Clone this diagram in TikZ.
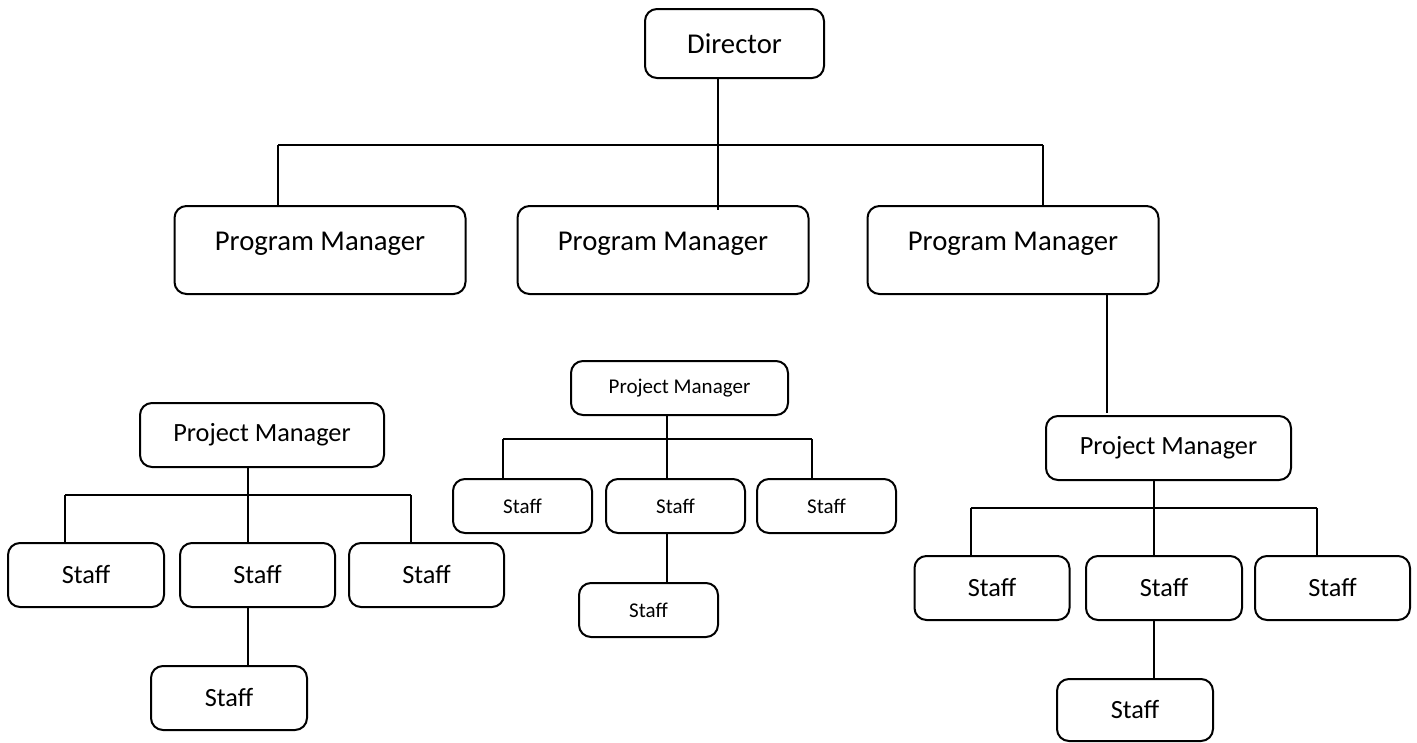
\documentclass[tikz,border=0pt]{standalone}
\usepackage{fontspec}
\setmainfont{Carlito}
\begin{document}
\begin{tikzpicture}[x=1pt,y=-1pt,
  box/.style={draw, line width=2pt, rounded corners=12pt, inner sep=0pt, align=center},
  conn/.style={line width=2pt},
  big/.style={font=\fontsize{28.7}{34}\selectfont},
  mid/.style={font=\fontsize{26.3}{31}\selectfont},
  sml/.style={font=\fontsize{21}{25}\selectfont},
  pmbox/.style={box, big, minimum width=291pt, minimum height=88pt, text height=10pt, text depth=10pt},
  bigstaff/.style={box, mid, minimum width=155pt, minimum height=64pt},
  smlstaff/.style={box, sml, minimum width=139pt, minimum height=54pt}]
\useasboundingbox[fill=white] (0,0) rectangle (1417,742);

% top level
\node[box, big, minimum width=179pt, minimum height=69pt] (dir) at (734.5,43.5) {Director};
\node[pmbox] (pm1) at (320,250) {Program Manager};
\node[pmbox] (pm2) at (663,250) {Program Manager};
\node[pmbox] (pm3) at (1013,250) {Program Manager};

\coordinate (d0) at (718.3,145);
\coordinate (dl) at (278.3,145);
\coordinate (dr) at (1042.7,145);
\coordinate (dend) at (718.3,209.5);
\draw[conn] (dir.south -| d0) -- (dend);
\draw[conn] (dl) -- (dr);
\draw[conn] (dl) -- (pm1.north -| dl);
\draw[conn] (dr) -- (pm3.north -| dr);

% left branch
\node[box, mid, minimum width=244pt, minimum height=64pt] (pja) at (262,435) {Project Manager};
\node[bigstaff, minimum width=156pt] (sa1) at (86,575) {Staff};
\node[bigstaff] (sa2) at (257.5,575) {Staff};
\node[bigstaff] (sa3) at (426.5,575) {Staff};
\node[bigstaff, minimum width=156pt] (sa4) at (229,698) {Staff};
\coordinate (ax) at (248.3,495.3);
\coordinate (al) at (65.3,495.3);
\coordinate (ar) at (410.7,495.3);
\draw[conn] (pja.south -| ax) -- (sa2.north -| ax);
\draw[conn] (al) -- (ar);
\draw[conn] (al) -- (sa1.north -| al);
\draw[conn] (ar) -- (sa3.north -| ar);
\draw[conn] (sa2.south -| ax) -- (sa4.north -| ax);

% middle branch
\node[box, sml, minimum width=217pt, minimum height=54pt] (pjb) at (679.5,388) {Project Manager};
\node[smlstaff] (sb1) at (522.5,506) {Staff};
\node[smlstaff] (sb2) at (675.5,506) {Staff};
\node[smlstaff] (sb3) at (826.5,506) {Staff};
\node[smlstaff] (sb4) at (648.5,610) {Staff};
\coordinate (bx) at (667.3,439);
\coordinate (bl) at (503.3,439);
\coordinate (br) at (812.3,439);
\draw[conn] (pjb.south -| bx) -- (sb2.north -| bx);
\draw[conn] (bl) -- (br);
\draw[conn] (bl) -- (sb1.north -| bl);
\draw[conn] (br) -- (sb3.north -| br);
\draw[conn] (sb2.south -| bx) -- (sb4.north -| bx);

% right branch
\node[box, mid, minimum width=245pt, minimum height=64pt] (pjc) at (1168.5,448) {Project Manager};
\coordinate (px) at (1106.7,250);
\coordinate (pend) at (1106.7,413);
\draw[conn] (pm3.south -| px) -- (pend);
\node[bigstaff] (sc1) at (992,588) {Staff};
\node[bigstaff, minimum width=156pt] (sc2) at (1164,588) {Staff};
\node[bigstaff] (sc3) at (1332.5,588) {Staff};
\node[bigstaff, minimum width=156pt, minimum height=62pt] (sc4) at (1135,710) {Staff};
\coordinate (cx) at (1154.3,508.3);
\coordinate (cl) at (970.7,508.3);
\coordinate (cr) at (1316.7,508.3);
\draw[conn] (pjc.south -| cx) -- (sc2.north -| cx);
\draw[conn] (cl) -- (cr);
\draw[conn] (cl) -- (sc1.north -| cl);
\draw[conn] (cr) -- (sc3.north -| cr);
\draw[conn] (sc2.south -| cx) -- (sc4.north -| cx);
\end{tikzpicture}
\end{document}
